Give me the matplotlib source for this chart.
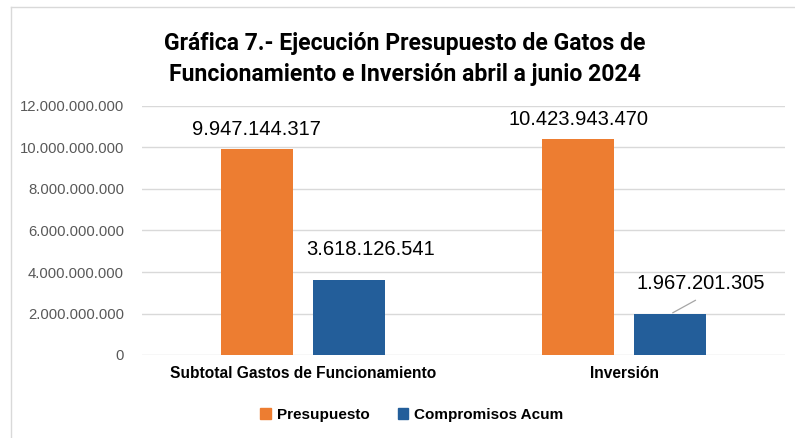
import numpy as np
import matplotlib.pyplot as plt
from matplotlib.lines import Line2D
from matplotlib.ticker import FuncFormatter

categories = ['Subtotal Gastos de Funcionamiento', 'Inversión']
presupuesto = [9947144317, 10423943470]
compromisos = [3618126541, 1967201305]
series_names = ['Presupuesto', 'Compromisos Acum']
title = 'Gráfica 7.- Ejecución Presupuesto de Gatos de\nFuncionamiento e Inversión abril a junio 2024'

orange = '#ED7D31'
blue = '#235E9A'


def fmt(v, pos=None):
    return f'{int(v):,}'.replace(',', '.')


fig = plt.figure(figsize=(7.95, 4.38), dpi=100)
ax = fig.add_axes([142 / 795, 1 - 355 / 438, 643 / 795, 249 / 438])

x = np.arange(len(categories))
w = 0.224
off = 0.143
ax.bar(x - off, presupuesto, w, color=orange, label=series_names[0], zorder=3)
ax.bar(x + off, compromisos, w, color=blue, label=series_names[1], zorder=3)

ax.set_xlim(-0.5, 1.5)
ax.set_ylim(0, 12e9)
ax.set_yticks(np.arange(0, 12e9 + 1, 2e9))
ax.yaxis.set_major_formatter(FuncFormatter(fmt))
ax.grid(axis='y', color='#D9D9D9', linewidth=1, zorder=0)
for s in ax.spines.values():
    s.set_visible(False)
ax.tick_params(axis='y', length=0, pad=13, labelsize=10.7, labelcolor='#595959')
ax.tick_params(axis='x', length=0, pad=8)
ax.set_xticks(x)
ax.set_xticklabels(categories, fontsize=11.2, fontweight='bold', family='Liberation Sans')
for t in ax.get_yticklabels():
    t.set_family('Liberation Sans')

# data labels (offsets as in the original chart)
lab_kw = dict(ha='center', va='center', fontsize=14.5, family='Liberation Sans', color='black')
ax.annotate(fmt(presupuesto[0]), (x[0] - off, presupuesto[0]), xytext=(0, 14),
            textcoords='offset points', **lab_kw)
ax.annotate(fmt(presupuesto[1]), (x[1] - off, presupuesto[1]), xytext=(0, 14),
            textcoords='offset points', **lab_kw)
ax.annotate(fmt(compromisos[0]), (x[0] + off, compromisos[0]), xytext=(16, 22),
            textcoords='offset points', **lab_kw)
ax.annotate(fmt(compromisos[1]), (x[1] + off, compromisos[1]), xytext=(22, 22),
            textcoords='offset points', **lab_kw)
# leader line for the last label
ax.annotate('', (x[1] + off, compromisos[1]), xytext=(20, 11), textcoords='offset points',
            arrowprops=dict(arrowstyle='-', color='#A6A6A6', lw=0.9))

fig.text(405 / 795, 1 - 59 / 438, title, ha='center', va='center', fontsize=16.6,
         fontweight='bold', family='Roboto', linespacing=1.4)

handles = [plt.Rectangle((0, 0), 1, 1, color=orange), plt.Rectangle((0, 0), 1, 1, color=blue)]
fig.legend(handles, series_names, loc='center', bbox_to_anchor=(412 / 795, 1 - 415 / 438),
           ncol=2, frameon=False, handlelength=0.7, handleheight=0.7, columnspacing=1.8,
           handletextpad=0.4, prop={'family': 'Liberation Sans', 'weight': 'bold', 'size': 11})

# chart area border (left and top edges visible)
fig.add_artist(Line2D([11 / 795, 11 / 795], [0, 1 - 7 / 438], color='#D9D9D9', lw=1))
fig.add_artist(Line2D([11 / 795, 1], [1 - 7 / 438, 1 - 7 / 438], color='#D9D9D9', lw=1))

fig.savefig('out.png', dpi=100)
